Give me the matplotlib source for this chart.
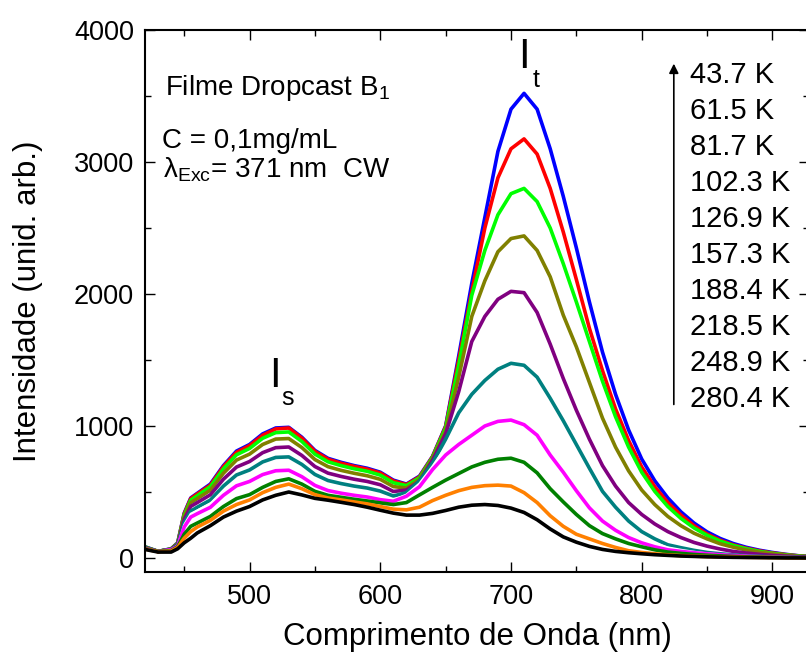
import matplotlib
matplotlib.use("Agg")
import matplotlib.pyplot as plt
from matplotlib.ticker import MultipleLocator

plt.rcParams['font.family'] = ['Liberation Sans', 'DejaVu Sans']
plt.rcParams['mathtext.fontset'] = 'custom'
plt.rcParams['mathtext.rm'] = 'Liberation Sans'
plt.rcParams['mathtext.it'] = 'Liberation Sans'

# wavelength grid (nm) and intensity
wl = [420, 430, 440, 445, 450, 455, 460, 470, 480, 490, 500, 510, 520, 530, 540,
      550, 560, 570, 580, 590, 600, 610, 620, 630, 640, 650, 660, 670, 680, 690,
      700, 710, 720, 730, 740, 750, 760, 770, 780, 790, 800, 810, 820, 830, 840,
      850, 860, 870, 880, 890, 900, 910, 920, 930]

t437 = [85, 50, 70, 115, 340, 455, 490, 560, 700, 810, 860, 940, 985, 990, 915,
        815, 755, 725, 700, 680, 650, 590, 560, 620, 770, 1000, 1530, 2080, 2580, 3080,
        3400, 3520, 3400, 3100, 2740, 2350, 1940, 1560, 1240, 970, 750, 585, 455, 350, 265,
        198, 148, 110, 81, 59, 42, 28, 17, 11]
t615 = [82, 48, 68, 112, 335, 450, 485, 552, 692, 800, 852, 930, 978, 985, 908,
        808, 748, 718, 694, 673, 644, 584, 556, 615, 768, 995, 1500, 2020, 2500, 2880,
        3100, 3175, 3060, 2800, 2470, 2110, 1740, 1420, 1130, 890, 690, 540, 420, 325, 245,
        182, 135, 100, 74, 54, 38, 26, 16, 10]
t817 = [84, 50, 69, 110, 325, 438, 472, 541, 676, 782, 830, 907, 950, 955, 883,
        787, 729, 700, 676, 657, 628, 570, 548, 608, 762, 985, 1460, 1990, 2330, 2600,
        2760, 2800, 2700, 2500, 2230, 1940, 1640, 1340, 1070, 840, 650, 505, 390, 300, 228,
        172, 128, 95, 70, 50, 35, 24, 15, 9]
t1023 = [82, 50, 68, 105, 310, 419, 450, 514, 642, 742, 787, 860, 901, 905, 837,
         746, 692, 664, 642, 623, 596, 541, 530, 595, 752, 960, 1370, 1830, 2100, 2320,
         2420, 2440, 2330, 2130, 1840, 1600, 1330, 1060, 840, 660, 515, 405, 315, 245, 188,
         145, 108, 82, 61, 44, 31, 21, 13, 8]
t1269 = [79, 50, 67, 102, 292, 391, 420, 479, 597, 689, 731, 798, 836, 841, 777,
         693, 643, 618, 597, 580, 555, 504, 515, 580, 740, 940, 1260, 1640, 1830, 1960,
         2020, 2010, 1860, 1620, 1360, 1120, 900, 700, 545, 420, 330, 258, 200, 155, 118,
         90, 68, 50, 38, 28, 20, 14, 9, 6]
t1573 = [77, 50, 65, 98, 268, 355, 385, 439, 545, 629, 667, 728, 762, 766, 709,
         633, 587, 564, 545, 530, 507, 470, 495, 585, 720, 900, 1100, 1240, 1345, 1430,
         1475, 1460, 1370, 1210, 1040, 860, 680, 505, 385, 280, 200, 145, 100, 78, 58,
         42, 32, 24, 18, 13, 9, 6, 4, 3]
t_white = [75, 50, 64, 94, 252, 335, 360, 412, 511, 589, 624, 681, 713, 716, 663,
           592, 550, 529, 511, 497, 475, 440, 480, 565, 695, 840, 970, 1080, 1170, 1230,
           1255, 1230, 1150, 1000, 850, 690, 540, 400, 300, 215, 155, 112, 80, 62, 47,
           35, 27, 20, 15, 11, 8, 5, 3, 2]
t1884 = [73, 50, 63, 90, 235, 310, 336, 384, 475, 547, 580, 632, 661, 665, 616,
         550, 511, 491, 475, 462, 442, 430, 468, 540, 670, 780, 860, 930, 1000, 1035,
         1045, 1010, 930, 780, 650, 510, 380, 280, 210, 155, 115, 85, 62, 50, 40,
         32, 25, 19, 14, 10, 7, 5, 3, 2]
t2185 = [70, 50, 56, 85, 180, 240, 265, 315, 390, 450, 480, 535, 580, 600, 560,
         505, 475, 460, 445, 432, 418, 405, 420, 478, 535, 590, 640, 690, 725, 748,
         756, 725, 645, 525, 425, 330, 245, 185, 145, 110, 85, 62, 45, 35, 27,
         21, 16, 12, 9, 7, 5, 4, 3, 2]
t2489 = [68, 48, 52, 80, 150, 200, 235, 285, 355, 405, 440, 495, 535, 560, 525,
         480, 455, 440, 425, 410, 390, 370, 365, 385, 435, 475, 510, 535, 548, 552,
         545, 495, 420, 320, 240, 180, 145, 110, 80, 55, 42, 32, 24, 18, 14,
         11, 9, 7, 5, 4, 3, 2, 1, 1]
t2804 = [65, 45, 45, 70, 115, 150, 190, 245, 310, 355, 390, 440, 475, 500, 478,
         452, 438, 422, 405, 385, 362, 340, 325, 325, 338, 360, 385, 400, 405, 398,
         378, 345, 290, 220, 160, 120, 88, 65, 50, 40, 32, 25, 20, 15, 12,
         9, 7, 5, 4, 3, 2, 1, 1, 0]

temps = ['43.7 K', '61.5 K', '81.7 K', '102.3 K', '126.9 K', '157.3 K',
         '188.4 K', '218.5 K', '248.9 K', '280.4 K']

series = [
    (t437, '#0000ff'), (t615, '#ff0000'), (t817, '#00ff00'), (t1023, '#808000'),
    (t1269, '#800080'), (t1573, '#008080'), (t_white, '#ffffff'),
    (t1884, '#ff00ff'), (t2185, '#008000'), (t2489, '#ff8000'), (t2804, '#000000'),
]

fig = plt.figure(figsize=(8.06, 6.59), dpi=100)
ax = fig.add_axes([145 / 806, 87 / 659, 664 / 806, 542 / 659])

for vals, col in series:
    ax.plot(wl, vals, color=col, lw=2.6 if col != '#ffffff' else 1.6)

ax.set_xlim(420, 928)
ax.set_ylim(-106, 4000)
ax.xaxis.set_major_locator(MultipleLocator(100))
ax.xaxis.set_minor_locator(MultipleLocator(50))
ax.yaxis.set_major_locator(MultipleLocator(1000))
ax.yaxis.set_minor_locator(MultipleLocator(500))
ax.tick_params(which='both', direction='in', top=True, right=True, width=1.0)
ax.tick_params(which='major', length=7, labelsize=19.5)
ax.tick_params(which='minor', length=4)
ax.tick_params(axis='x', pad=9)
ax.tick_params(axis='y', pad=8)
for sp in ax.spines.values():
    sp.set_linewidth(1.5)

ax.set_xlabel('Comprimento de Onda (nm)', fontsize=22.5, labelpad=8)
ax.set_ylabel('Intensidade (unid. arb.)', fontsize=22.5, labelpad=22)

tr = ax.transAxes
ax.text(0.030, 0.880, 'Filme Dropcast B$_1$', fontsize=20, transform=tr)
ax.text(0.026, 0.782, 'C = 0,1mg/mL', fontsize=20, transform=tr)
ax.text(0.027, 0.727, r'λ$_{\mathrm{Exc}}$= 371 nm  CW', fontsize=20, transform=tr)

ax.text(0.562, 0.930, 'I', fontsize=30, transform=tr)
ax.text(0.584, 0.895, 't', fontsize=18, transform=tr)
ax.text(0.187, 0.341, 'I', fontsize=30, transform=tr)
ax.text(0.205, 0.308, 's', fontsize=18, transform=tr)

# temperature list with arrow
for i, lab in enumerate(temps):
    ax.text(0.8205, 0.902 - i * 0.0664, lab, fontsize=21, transform=tr)
ax.annotate('', xy=(0.7964, 0.943), xytext=(0.7964, 0.304), xycoords=tr,
            arrowprops=dict(arrowstyle='-|>', lw=1.2, color='k', mutation_scale=14))

fig.savefig('out.png', dpi=100)
